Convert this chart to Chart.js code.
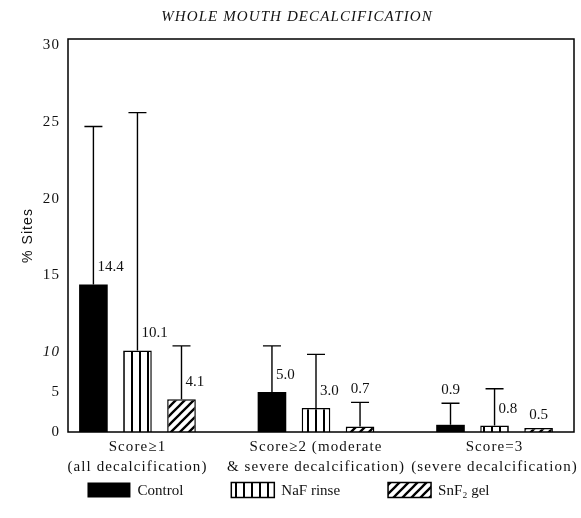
<!DOCTYPE html>
<html>
<head>
<meta charset="utf-8">
<script src="https://cdn.jsdelivr.net/npm/chart.js@4.4.1/dist/chart.umd.min.js"></script>
<style>
html,body{margin:0;padding:0;background:#fff;}
#wrap{width:581px;height:518px;}
</style>
</head>
<body>
<div id="wrap"><canvas id="c" width="581" height="518"></canvas></div>
<script>
// ---------- data ----------
const categories = [
  ["Score\u22651", "(all decalcification)"],
  ["Score\u22652 (moderate", "& severe decalcification)"],
  ["Score=3", "(severe decalcification)"]
];
const seriesNames = ["Control", "NaF rinse", "SnF\u2082 gel"];
const controlValues = [14.4, 5.0, 0.9];
const nafValues     = [10.1, 3.0, 0.8];
const snfValues     = [4.1, 0.7, 0.5];
// upper error-bar lengths (SD)
const controlErrors = [10.3, 5.4, 2.7];
const nafErrors     = [15.5, 6.7, 4.6];
const snfErrors     = [6.3, 3.0, null];
const yTickValues = [0, 5, 10, 15, 20, 25, 30];

// ---------- style ----------
const SERIF = '"Liberation Serif", "Times New Roman", serif';
const INK = '#111';
const labelPlacement = [
  ["right", "right", "above"],
  ["right", "right", "right"],
  ["right", "above", "above"]
];
// the printed y axis is not uniform: 0-10 is compressed
const yBreakValues = [0, 5, 10, 30.4];
const yBreakFractions = [0, 40/393, 80/393, 1];

class BrokenLinearScale extends Chart.LinearScale {
  _toDecimal(v) {
    const bv = yBreakValues, bf = yBreakFractions;
    for (let k = 1; k < bv.length; k++) {
      if (v <= bv[k] || k === bv.length - 1) {
        return bf[k-1] + (v - bv[k-1]) * (bf[k] - bf[k-1]) / (bv[k] - bv[k-1]);
      }
    }
  }
  _fromDecimal(d) {
    const bv = yBreakValues, bf = yBreakFractions;
    for (let k = 1; k < bf.length; k++) {
      if (d <= bf[k] || k === bf.length - 1) {
        return bv[k-1] + (d - bf[k-1]) * (bv[k] - bv[k-1]) / (bf[k] - bf[k-1]);
      }
    }
  }
  getPixelForValue(value) {
    if (value === null || value === undefined || isNaN(value)) return NaN;
    return this.getPixelForDecimal(this._toDecimal(value));
  }
  getValueForPixel(pixel) {
    return this._fromDecimal(this.getDecimalForPixel(pixel));
  }
}
BrokenLinearScale.id = 'brokenLinear';
BrokenLinearScale.defaults = Chart.LinearScale.defaults;
Chart.register(BrokenLinearScale);

function stripePattern() {
  const c = document.createElement('canvas'); c.width = 8; c.height = 8;
  const g = c.getContext('2d');
  g.fillStyle = '#fff'; g.fillRect(0, 0, 8, 8);
  g.fillStyle = '#000'; g.fillRect(3, 0, 2, 8);
  return g.createPattern(c, 'repeat');
}
function hatchPattern() {
  const s = 9;
  const c = document.createElement('canvas'); c.width = s; c.height = s;
  const g = c.getContext('2d');
  g.fillStyle = '#fff'; g.fillRect(0, 0, s, s);
  g.strokeStyle = '#000'; g.lineWidth = 2.3;
  g.beginPath();
  g.moveTo(0, s); g.lineTo(s, 0);
  g.moveTo(-1, 1); g.lineTo(1, -1);
  g.moveTo(s - 1, s + 1); g.lineTo(s + 1, s - 1);
  g.stroke();
  return g.createPattern(c, 'repeat');
}

const toPoints = vals => vals.map((v, i) => ({x: i, y: v}));

const datasets = [
  {label: seriesNames[0], data: toPoints(controlValues), errors: controlErrors,
   backgroundColor: '#000', borderColor: '#000', borderWidth: 0},
  {label: seriesNames[1], data: toPoints(nafValues), errors: nafErrors,
   backgroundColor: stripePattern(), borderColor: '#000', borderWidth: 1.5},
  {label: seriesNames[2], data: toPoints(snfValues), errors: snfErrors,
   backgroundColor: hatchPattern(), borderColor: '#000', borderWidth: 1.5}
];

// ---------- plugins ----------
const spacingPlugin = {
  id: 'spacing',
  beforeDraw(chart) { chart.ctx.letterSpacing = '1.1px'; }
};

const framePlugin = {
  id: 'frame',
  afterDatasetsDraw(chart) {
    const {ctx, chartArea: a} = chart;
    ctx.save();
    ctx.strokeStyle = '#000'; ctx.lineWidth = 1.5;
    ctx.strokeRect(a.left, a.top, a.right - a.left, a.bottom - a.top);
    ctx.restore();
  }
};

const errorBarPlugin = {
  id: 'errorBars',
  afterDatasetsDraw(chart) {
    const ctx = chart.ctx, y = chart.scales.y;
    ctx.save();
    ctx.strokeStyle = '#000'; ctx.lineWidth = 1.4;
    chart.data.datasets.forEach((ds, di) => {
      chart.getDatasetMeta(di).data.forEach((bar, i) => {
        const sd = ds.errors[i];
        if (sd === null || sd === undefined) return;
        const top = y.getPixelForValue(ds.data[i].y + sd);
        ctx.beginPath();
        ctx.moveTo(bar.x, bar.y); ctx.lineTo(bar.x, top);
        ctx.moveTo(bar.x - 9, top); ctx.lineTo(bar.x + 9, top);
        ctx.stroke();
      });
    });
    ctx.restore();
  }
};

const valueLabelPlugin = {
  id: 'valueLabels',
  afterDatasetsDraw(chart) {
    const ctx = chart.ctx, y = chart.scales.y;
    ctx.save();
    ctx.letterSpacing = '0px';
    ctx.font = '15px ' + SERIF;
    ctx.fillStyle = INK;
    ctx.textBaseline = 'middle';
    chart.data.datasets.forEach((ds, di) => {
      chart.getDatasetMeta(di).data.forEach((bar, i) => {
        const v = ds.data[i].y, sd = ds.errors[i];
        const txt = v.toFixed(1);
        if (labelPlacement[di][i] === 'right') {
          ctx.textAlign = 'left';
          ctx.fillText(txt, bar.x + 4, bar.y - 17);
        } else {
          ctx.textAlign = 'center';
          const base = (sd === null || sd === undefined) ? bar.y : y.getPixelForValue(v + sd);
          ctx.fillText(txt, bar.x, base - 13);
        }
      });
    });
    ctx.restore();
  }
};

const legendPlugin = {
  id: 'sheetLegend',
  afterDraw(chart) {
    const ctx = chart.ctx;
    ctx.save();
    ctx.letterSpacing = '0px';
    ctx.font = '15px ' + SERIF;
    const boxW = 43, boxH = 15, gap = 7, itemGap = 48;
    const items = chart.data.datasets.map(ds => ({ds, w: boxW + gap + ctx.measureText(ds.label).width}));
    const total = items.reduce((s, it) => s + it.w, 0) + itemGap * (items.length - 1);
    let x = chart.width / 2 - total / 2 - 2;
    const cy = chart.height - 28;
    items.forEach(it => {
      ctx.fillStyle = it.ds.backgroundColor;
      ctx.fillRect(x, cy - boxH / 2, boxW, boxH);
      if (it.ds.borderWidth) {
        ctx.lineWidth = 1.5; ctx.strokeStyle = '#000';
        ctx.strokeRect(x, cy - boxH / 2, boxW, boxH);
      }
      ctx.fillStyle = INK; ctx.textAlign = 'left'; ctx.textBaseline = 'middle';
      ctx.fillText(it.ds.label, x + boxW + gap, cy + 1);
      x += it.w + itemGap;
    });
    ctx.restore();
  }
};

new Chart(document.getElementById('c'), {
  type: 'bar',
  data: {datasets},
  plugins: [spacingPlugin, framePlugin, errorBarPlugin, valueLabelPlugin, legendPlugin],
  options: {
    responsive: false,
    animation: false,
    devicePixelRatio: 1,
    layout: {padding: {left: 20, right: 7, top: 0, bottom: 42}},
    datasets: {bar: {categoryPercentage: 0.74, barPercentage: 0.65}},
    plugins: {
      legend: {display: false},
      tooltip: {enabled: false},
      title: {
        display: true,
        text: 'WHOLE MOUTH DECALCIFICATION',
        color: INK,
        font: {family: SERIF, size: 15, style: 'italic', weight: 'normal', lineHeight: 1.2},
        padding: {top: 8, bottom: 13}
      }
    },
    scales: {
      x: {
        type: 'linear',
        offset: false,
        min: -0.389, max: 2.445,
        grid: {display: false, drawTicks: false, offset: false},
        border: {display: false},
        afterBuildTicks: s => { s.ticks = categories.map((c, i) => ({value: i})); },
        afterFit: s => { s.height = 44; },
        ticks: {
          autoSkip: false, maxRotation: 0, minRotation: 0,
          padding: 5, color: INK,
          font: {family: SERIF, size: 15, lineHeight: 1.33},
          callback: v => categories[v] || ''
        }
      },
      y: {
        type: 'brokenLinear',
        min: 0, max: 30.4,
        grid: {display: false, drawTicks: false},
        border: {display: false},
        afterBuildTicks: s => { s.ticks = yTickValues.map(v => ({value: v})); },
        afterFit: s => { s.width = 48; },
        ticks: {
          padding: 8, color: INK,
          font: ctx => ({family: SERIF, size: 15, style: (ctx.tick && ctx.tick.value === 10) ? 'italic' : 'normal'}),
          callback: v => String(v)
        },
        title: {
          display: true, text: '% Sites', color: INK,
          font: {family: '"Liberation Sans", Arial, sans-serif', size: 14, lineHeight: 1.2},
          padding: {top: 0, bottom: 0}
        }
      }
    }
  }
});
</script>
</body>
</html>
